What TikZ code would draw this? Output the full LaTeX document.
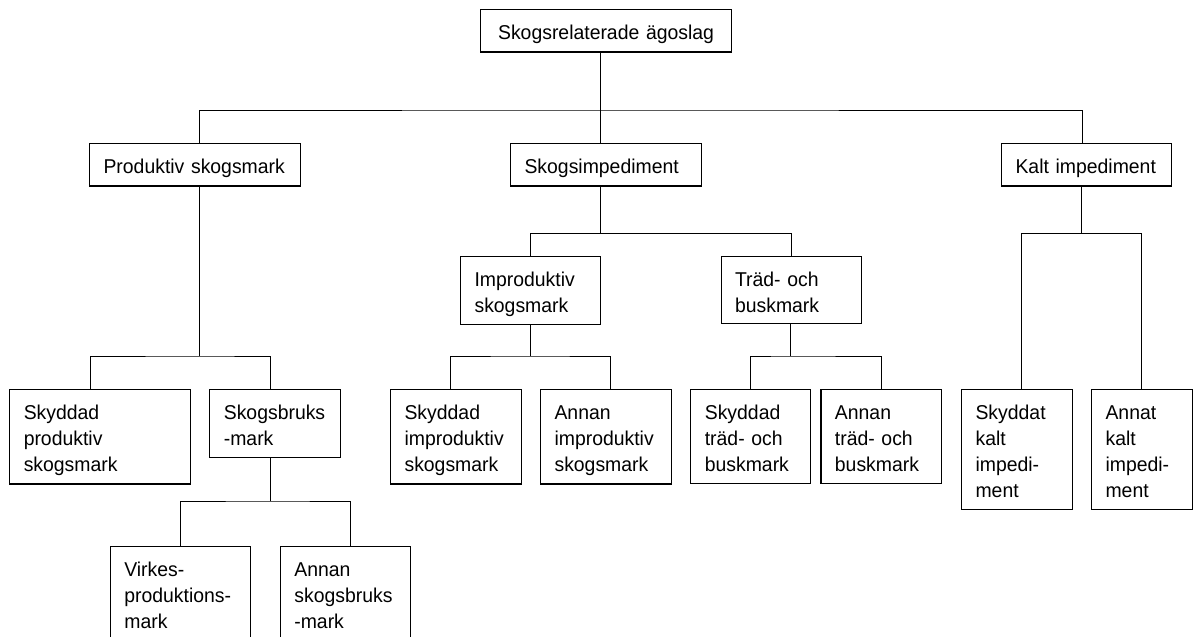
\documentclass[tikz,border=0pt]{standalone}
\usepackage{fontspec}
\setmainfont{Liberation Sans}[FakeStretch=0.97]
\usepackage{tikz}
\usetikzlibrary{positioning}
\hyphenpenalty=10000
\exhyphenpenalty=10000

\begin{document}
\begin{tikzpicture}[x=1pt, y=-1pt,
    box/.style={draw, line width=1.1pt, anchor=north west, align=left,
        inner xsep=14pt, inner ysep=8pt, font=\fontsize{20}{26}\selectfont,
        execute at begin node={\rule{0pt}{22pt}},
        execute at end node={\rule[-3.5pt]{0pt}{0pt}}},
    link/.style={line width=1pt}]
    \useasboundingbox (0,0) rectangle (1195,637);
    % level 0 and 1
    \node[box, text width=223pt, align=center] (top) at (480,9.3) {Skogsrelaterade ägoslag};
    \node[box, text width=183pt] (prod) at (89,143.3) {Produktiv skogsmark};
    \node[box, text width=163pt] (simp) at (510,143.3) {Skogsimpediment};
    \node[box, text width=142pt] (kalt) at (1001,143.3) {Kalt impediment};
    % level 2
    \node[box, text width=112pt] (improd) at (460,255.7) {Improduktiv\\skogsmark};
    \node[box, text width=112.5pt] (trad) at (720.5,255.7) {Träd- och\\buskmark};
    % level 3
    \node[box, text width=153pt] (skprod) at (9.2,389.3) {Skyddad\\produktiv\\skogsmark};
    \node[box, text width=103pt] (sbruk) at (209.3,389.3) {Skogsbruks\\-mark};
    \node[box, text width=102.5pt] (skimp) at (390,389.3) {Skyddad\\improduktiv\\skogsmark};
    \node[box, text width=102.5pt] (animp) at (540,389.3) {Annan\\improduktiv\\skogsmark};
    \node[box, text width=92pt] (sktrad) at (690.3,389.3) {Skyddad\\träd- och\\buskmark};
    \node[box, text width=92.5pt] (antrad) at (820.4,389.3) {Annan\\träd- och\\buskmark};
    \node[box, text width=82.5pt] (skkalt) at (961,389.3) {Skyddat\\kalt\\impedi-\\ment};
    \node[box, text width=72.5pt] (ankalt) at (1091,389.3) {Annat\\kalt\\impedi-\\ment};
    % level 4
    \node[box, text width=112.5pt] (virk) at (109.8,545.7) {Virkes-\\produktions-\\mark};
    \node[box, text width=102pt] (ansb) at (279.8,545.7) {Annan\\skogsbruks\\-mark};

    % branch points
    \coordinate (b0) at (600,110);
    \coordinate (b1) at (199.4,356);
    \coordinate (b2) at (270,501);
    \coordinate (b3) at (600,233.3);
    \coordinate (b4) at (530,356);
    \coordinate (b5) at (790.6,356);
    \coordinate (b6) at (1081.5,233.3);

    \draw[link] (b0 |- top.south) -- (b0);
    \draw[link] ([xshift=4.9pt]prod.north) |- (b0) -| ([xshift=-4pt]kalt.north);
    \draw[link] (b0) -- (b0 |- simp.north);

    \draw[link] (b1 |- prod.south) -- (b1);
    \draw[link] ([xshift=-10pt]skprod.north) |- (b1) -| ([xshift=-4.8pt]sbruk.north);

    \draw[link] (b2 |- sbruk.south) -- (b2);
    \draw[link] (virk.north) |- (b2) -| ([xshift=5.2pt]ansb.north);

    \draw[link] (b3 |- simp.south) -- (b3);
    \draw[link] (improd.north) |- (b3) -| (trad.north);

    \draw[link] (b4 |- improd.south) -- (b4);
    \draw[link] ([xshift=-5.2pt]skimp.north) |- (b4) -| ([xshift=4.8pt]animp.north);

    \draw[link] (b5 |- trad.south) -- (b5);
    \draw[link] (sktrad.north) |- (b5) -| (antrad.north);

    \draw[link] (b6 |- kalt.south) -- (b6);
    \draw[link] ([xshift=4.8pt]skkalt.north) |- (b6) -| (ankalt.north);
\end{tikzpicture}
\end{document}
